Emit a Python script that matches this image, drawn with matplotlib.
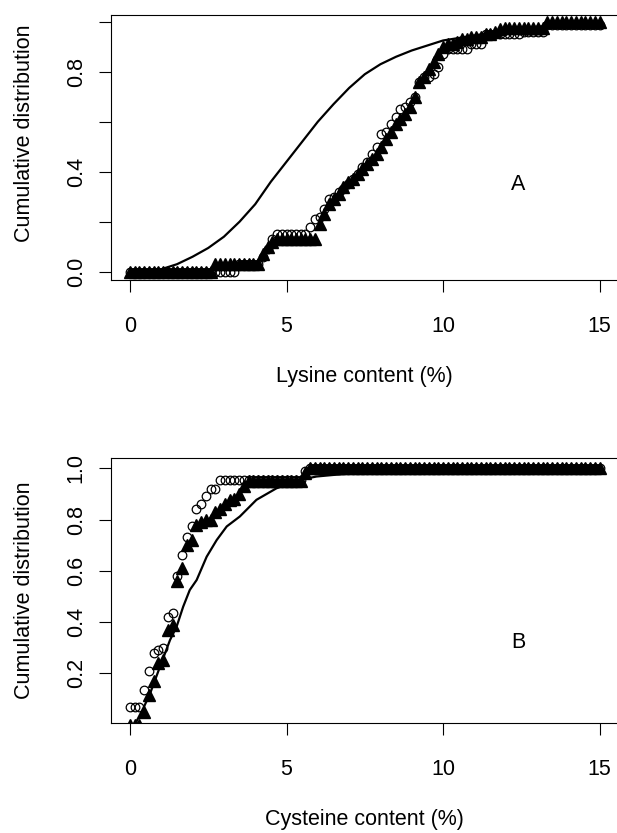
import numpy as np
import matplotlib
matplotlib.use("Agg")
import matplotlib.pyplot as plt

# evaluation grid used for the point series (100 points over 0..15)
content_grid = np.linspace(0, 15, 100)

# panel A - lysine
lys_tri = ([0.0] * 18 + [0.03] * 10 + [0.07, 0.10, 0.12] + [0.13] * 9 +
           [0.19, 0.23, 0.27, 0.29, 0.31, 0.34, 0.36, 0.37, 0.39, 0.41,
            0.43, 0.45, 0.47, 0.50, 0.53, 0.56, 0.59, 0.61, 0.63, 0.66,
            0.70, 0.76, 0.78, 0.81, 0.84, 0.87, 0.90, 0.91, 0.91, 0.92,
            0.93, 0.93, 0.94, 0.94, 0.94, 0.95, 0.95, 0.96, 0.97] +
           [0.975] * 9 + [1.0] * 12)
lys_circ = ([0.0] * 23 + [0.03] * 5 + [0.06, 0.09, 0.13] + [0.15] * 7 +
            [0.18, 0.21, 0.22, 0.25, 0.29, 0.30, 0.32, 0.33, 0.35, 0.37,
             0.39, 0.42, 0.44, 0.47, 0.50, 0.55, 0.56, 0.59, 0.62, 0.65,
             0.66, 0.68, 0.70, 0.76, 0.78, 0.78, 0.79, 0.82, 0.87, 0.89] +
            [0.89] * 4 + [0.91] * 3 + [0.95] * 8 + [0.96] * 5 + [0.985] * 12)
lys_line_x = [0.0, 0.5, 1.0, 1.5, 2.0, 2.5, 3.0, 3.5, 4.0, 4.5, 5.0, 5.5,
              6.0, 6.5, 7.0, 7.5, 8.0, 8.5, 9.0, 9.5, 10.0, 10.5, 11.0,
              11.5, 12.0, 13.0, 14.0, 15.0]
lys_line_y = [0.0, 0.0, 0.01, 0.03, 0.06, 0.095, 0.14, 0.20, 0.27, 0.36,
              0.44, 0.52, 0.60, 0.67, 0.735, 0.79, 0.83, 0.86, 0.885, 0.905,
              0.925, 0.935, 0.945, 0.955, 0.965, 0.98, 0.99, 0.995]

# panel B - cysteine
cys_tri = ([0.0] * 3 +
           [0.05, 0.115, 0.17, 0.24, 0.25, 0.37, 0.39, 0.56, 0.61, 0.70,
            0.72, 0.78, 0.79, 0.80, 0.80, 0.83, 0.84, 0.86, 0.875, 0.88,
            0.90, 0.93] +
           [0.95] * 12 + [0.98] + [1.0] * 62)
cys_circ = ([0.07] * 3 +
            [0.135, 0.21, 0.28, 0.29, 0.30, 0.42, 0.435, 0.58, 0.66, 0.73,
             0.775, 0.84, 0.86, 0.89, 0.92, 0.92] +
            [0.955] * 18 + [0.99] + [1.0] * 62)
cys_line_x = [0.2, 0.45, 0.64, 0.96, 1.28, 1.49, 1.70, 1.91, 2.13, 2.45,
              2.77, 3.09, 3.51, 4.04, 4.68, 5.43, 5.96, 7.02, 8.62, 15.0]
cys_line_y = [0.01, 0.07, 0.12, 0.226, 0.33, 0.382, 0.46, 0.525, 0.564, 0.655,
              0.72, 0.773, 0.812, 0.877, 0.922, 0.955, 0.968, 0.98, 0.99, 0.995]

x_ticks = [0, 5, 10, 15]
lys_yticks = [0.0, 0.2, 0.4, 0.6, 0.8, 1.0]
lys_yticklabels = ["0.0", "", "0.4", "", "0.8", ""]
cys_yticks = [0.2, 0.4, 0.6, 0.8, 1.0]
cys_yticklabels = ["0.2", "0.4", "0.6", "0.8", "1.0"]

FS = 15.5


def panel(ax, tri, circ, line_x, line_y, ylim, yticks, yticklabels, xlabel, tag, tag_y):
    ax.plot(content_grid, tri, linestyle="none", marker="^", ms=8,
            color="black", mec="black")
    ax.plot(content_grid, circ, linestyle="none", marker="o", ms=6.2,
            mfc="none", mec="black", mew=0.9)
    ax.plot(line_x, line_y, color="black", lw=1.6)
    ax.text(12.4, tag_y, tag, ha="center", va="center", fontsize=FS)

    ax.set_xlim(-0.6, 15.6)
    ax.set_ylim(*ylim)
    ax.set_xticks(x_ticks)
    ax.set_xticklabels([str(t) for t in x_ticks])
    ax.set_yticks(yticks)
    ax.set_yticklabels(yticklabels)
    for lab in ax.get_yticklabels():
        lab.set_rotation(90)
        lab.set_va("center")
    ax.tick_params(axis="x", length=8.6, width=0.8, pad=17.5, labelsize=FS)
    ax.tick_params(axis="y", length=8.6, width=0.8, pad=9, labelsize=FS)
    for s in ax.spines.values():
        s.set_linewidth(0.8)
    ax.set_xlabel(xlabel, fontsize=FS, labelpad=21)


def main():
    plt.rcParams['font.family'] = ['Liberation Sans', 'DejaVu Sans']
    fig = plt.figure(figsize=(6.17, 8.33), dpi=100)

    ax1 = fig.add_axes([0.1802, 0.6639, 0.8220, 0.3181])
    panel(ax1, lys_tri, lys_circ, lys_line_x, lys_line_y, (-0.033, 1.027),
          lys_yticks, lys_yticklabels, "Lysine content (%)", "A", 0.35)

    ax2 = fig.add_axes([0.1802, 0.1324, 0.8220, 0.3174])
    panel(ax2, cys_tri, cys_circ, cys_line_x, cys_line_y, (0.007, 1.039),
          cys_yticks, cys_yticklabels, "Cysteine content (%)", "B", 0.32)

    fig.text(0.0397, 0.8403, "Cumulative distribution", rotation=90,
             ha="center", va="center", fontsize=FS)
    fig.text(0.0397, 0.2917, "Cumulative distribution", rotation=90,
             ha="center", va="center", fontsize=FS)

    fig.savefig("out.png", dpi=100)


if __name__ == "__main__":
    main()
